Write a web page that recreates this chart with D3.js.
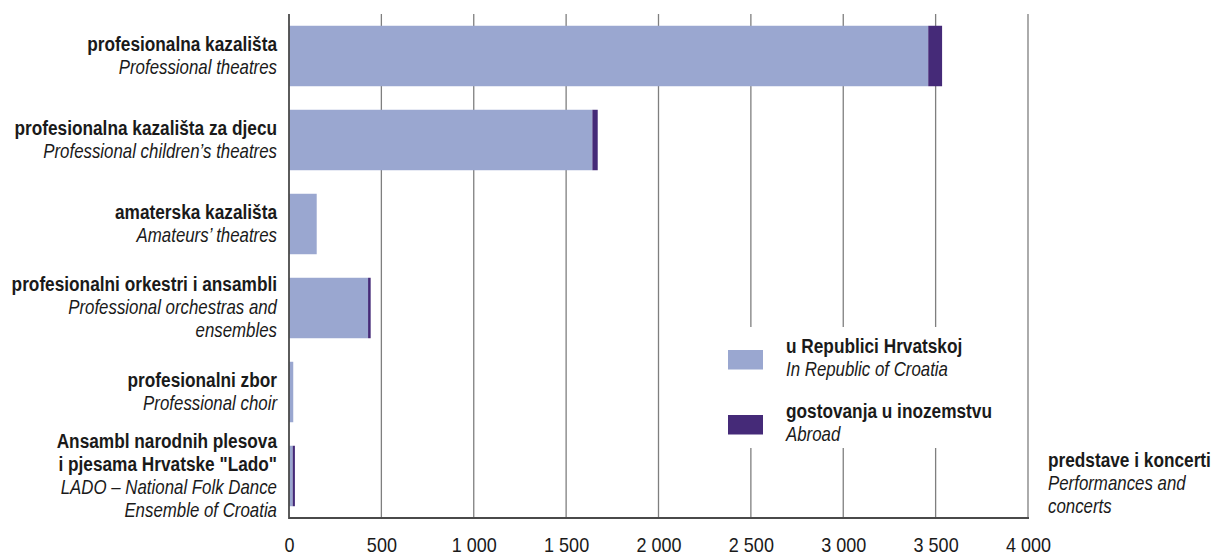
<!DOCTYPE html>
<html><head><meta charset="utf-8">
<script src="https://cdn.jsdelivr.net/npm/d3@7"></script>
<style>
body{margin:0;background:#fff;}
text{font-family:"Liberation Sans",Arial,sans-serif;fill:#1a1a1a;}
</style></head><body>
<svg id="chart" width="1213" height="555"></svg>
<script>
const categoriesHr = ["profesionalna kazališta","profesionalna kazališta za djecu","amaterska kazališta","profesionalni orkestri i ansambli","profesionalni zbor","Ansambl narodnih plesova|i pjesama Hrvatske \"Lado\""];
const categoriesEn = ["Professional theatres","Professional children’s theatres","Amateurs’ theatres","Professional orchestras and|ensembles","Professional choir","LADO – National Folk Dance|Ensemble of Croatia"];
const domestic = [3460, 1642, 150, 428, 23, 20];
const abroad = [75, 29, 0, 14, 0, 12];
const xTicks = [0,500,1000,1500,2000,2500,3000,3500,4000];
const seriesNames = [["u Republici Hrvatskoj","In Republic of Croatia"],["gostovanja u inozemstvu","Abroad"]];
const axisTitle = ["predstave i koncerti","Performances and","concerts"];
const colors = ["#9AA7D0","#452A78"];

const svg = d3.select("#chart");
const L = 289, R = 1028, T = 14, B = 518;
const SXB = 0.88, SXI = 0.86, FS = 19.6;
const x = d3.scaleLinear().domain([0,4000]).range([L,R]);
const y = d3.scaleBand().domain(d3.range(categoriesHr.length)).range([T,B]).paddingInner(0.28).paddingOuter(0.14);
const fmt = v => d3.format(",")(v).replace(/,/g," ");

function txt(px, py, s, bold, anchor){
  svg.append("text").attr("transform",`translate(${px},${py}) scale(${bold?SXB:SXI},1)`)
    .attr("text-anchor",anchor||"start").attr("font-size",FS)
    .attr("font-weight",bold?"bold":"normal").attr("font-style",bold?"normal":"italic")
    .text(s);
}

// gridlines
svg.append("g").selectAll("line").data(xTicks.slice(1)).join("line")
  .attr("x1",d=>x(d)).attr("x2",d=>x(d)).attr("y1",T).attr("y2",B)
  .attr("stroke","#7f7f7f").attr("stroke-width",1.3);

// bars
const g = svg.append("g");
g.selectAll("rect.dom").data(domestic).join("rect").attr("class","dom")
  .attr("x",x(0)).attr("y",(d,i)=>y(i)).attr("height",y.bandwidth())
  .attr("width",d=>x(d)-x(0)).attr("fill",colors[0]);
g.selectAll("rect.abr").data(abroad).join("rect").attr("class","abr")
  .attr("x",(d,i)=>x(domestic[i])).attr("y",(d,i)=>y(i)).attr("height",y.bandwidth())
  .attr("width",d=>x(d)-x(0)).attr("fill",colors[1]);

// axes lines
svg.append("line").attr("x1",L).attr("x2",L).attr("y1",T).attr("y2",B+1).attr("stroke","#4a4a4a").attr("stroke-width",1.8);
svg.append("line").attr("x1",L).attr("x2",R+1).attr("y1",B).attr("y2",B).attr("stroke","#4a4a4a").attr("stroke-width",1.8);

// x tick labels
const xa = d3.axisBottom(x).tickValues(xTicks).tickFormat(fmt).tickSize(0).tickPadding(0);
const ax = svg.append("g").attr("transform",`translate(0,552)`).call(xa);
ax.select(".domain").remove();
ax.selectAll(".tick text").attr("y",0).attr("dy",0).attr("font-size",20)
  .attr("fill","#1a1a1a").attr("transform","scale(0.9,1)")
  .style("font-family",'"Liberation Sans",Arial,sans-serif');

// category labels
const lh = 23;
categoriesHr.forEach((hr,i)=>{
  const lines = hr.split("|").map(t=>({t,b:true})).concat(categoriesEn[i].split("|").map(t=>({t,b:false})));
  const cy = y(i)+y.bandwidth()/2;
  const y0 = cy + 6 - (lines.length-1)*lh/2;
  lines.forEach((ln,j)=> txt(277, y0+j*lh, ln.t, ln.b, "end"));
});

// legend
svg.append("rect").attr("x",712).attr("y",327).attr("width",300).attr("height",121).attr("fill","#fff");
seriesNames.forEach((s,i)=>{
  const off = i*65;
  svg.append("rect").attr("x",728).attr("y",350+off).attr("width",35).attr("height",19.5).attr("fill",colors[i]);
  txt(786, 353+off, s[0], true);
  txt(786, 376+off, s[1], false);
});

// axis title
axisTitle.forEach((s,j)=> txt(1048, 467+j*22.8, s, j===0));
</script>
</body></html>
